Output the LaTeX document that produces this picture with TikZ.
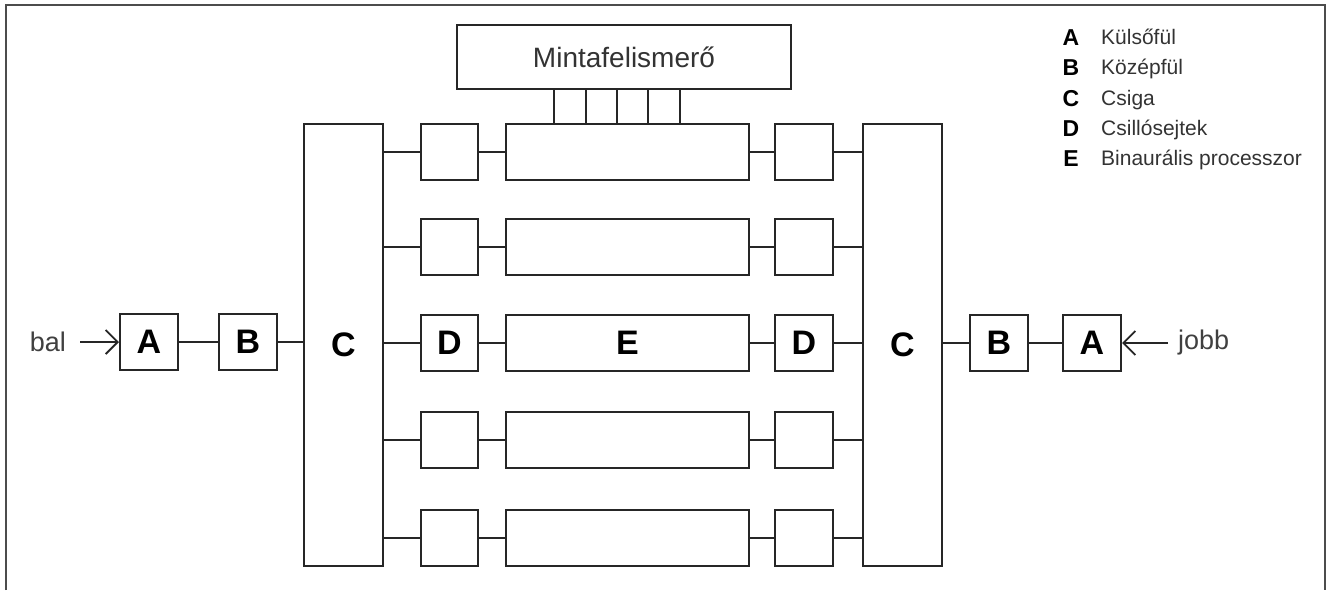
\documentclass[tikz,border=0pt]{standalone}
\usepackage{fontspec}
\setmainfont{Liberation Sans}
\usetikzlibrary{arrows.meta, positioning}

\begin{document}
\begin{tikzpicture}[x=1pt, y=-1pt,
  box/.style={draw=black!85, line width=2pt, fill=white, inner sep=0pt,
              font=\fontsize{34}{34}\selectfont\bfseries},
  smallbox/.style={box, minimum width=58pt, minimum height=56pt},
  wire/.style={draw=black!85, line width=2pt},
  inarr/.style={wire, -{Straight Barb[length=12pt, width=24pt, line width=1.8pt]}},
  lbl/.style={inner sep=0pt, text=black!75, font=\fontsize{27}{27}\selectfont},
  keyletter/.style={inner sep=0pt, font=\fontsize{23}{23}\selectfont\bfseries, text height=16.5pt, text depth=0pt},
  keytext/.style={inner sep=0pt, anchor=west, text=black!80, font=\fontsize{21}{21}\selectfont, text height=15pt, text depth=0pt},
  frame/.style={draw=black!70, line width=1.6pt},
]
  \useasboundingbox (0,0) rectangle (1329,590);
  \draw[frame] (6,590) -- (6,5) -- (1325,5) -- (1325,590);

  % ears and cochleas
  \node[smallbox] (AL) at (149,342) {A};
  \node[smallbox, right=39pt of AL] (BL) {B};
  \node[box, minimum width=79pt, minimum height=442pt] (CL) at (343.5,345) {C};
  \node[box, minimum width=79pt, minimum height=442pt] (CR) at (902.5,345) {C};
  \node[smallbox] (AR) at (1092,343) {A};
  \node[smallbox, left=33pt of AR] (BR) {B};

  % hair cells and binaural processors
  \foreach \i/\y in {1/152,2/247,3/343,4/440,5/538} {
    \node[box, minimum width=57pt, minimum height=56pt] (DL\i) at (449.5,\y) {\ifnum\i=3 D\fi};
    \node[box, minimum width=243pt, minimum height=56pt] (E\i) at (627.5,\y) {\ifnum\i=3 E\fi};
    \node[box, minimum width=58pt, minimum height=56pt] (DR\i) at (804,\y) {\ifnum\i=3 D\fi};
    \draw[wire] (DL\i.west -| CL.east) -- (DL\i.west);
    \draw[wire] (DL\i) -- (E\i);
    \draw[wire] (E\i) -- (DR\i);
    \draw[wire] (DR\i.east) -- (DR\i.east -| CR.west);
  }

  % pattern recogniser
  \node[box, minimum width=334pt, minimum height=64pt, font=\fontsize{28}{28}\selectfont, text=black!80] (MF) at (624,57) {Mintafelismerő};
  \foreach \dx [count=\k] in {49,81,112,143,175} {
    \coordinate (st\k) at ([xshift=\dx pt]E1.north west);
    \draw[wire] (st\k) -- (st\k |- MF.south);
  }

  \draw[wire] (AL) -- (BL);
  \draw[wire] (BL.east) -- (BL.east -| CL.west);
  \draw[wire] (CR.east |- BR.west) -- (BR.west);
  \draw[wire] (BR) -- (AR);

  % inputs
  \coordinate[left=39pt of AL.west] (balin);
  \coordinate[right=46pt of AR.east] (jobbin);
  \draw[inarr] (balin) -- (AL.west);
  \draw[inarr] (jobbin) -- (AR.east);
  \node[lbl, anchor=east] (bal) at ([xshift=-14pt]balin) {bal};
  \node[lbl, anchor=west] (jobb) at ([xshift=10pt]jobbin) {jobb};

  % legend
  \foreach \y/\l/\t [count=\i] in {37/A/Külsőfül, 67/B/Középfül, 98/C/Csiga, 128/D/Csillósejtek, 158/E/Binaurális processzor} {
    \node[keyletter] (key\i) at (1071,\y) {\l};
    \node[keytext] (keytext\i) at (1101,\y) {\t};
  }
\end{tikzpicture}
\end{document}
